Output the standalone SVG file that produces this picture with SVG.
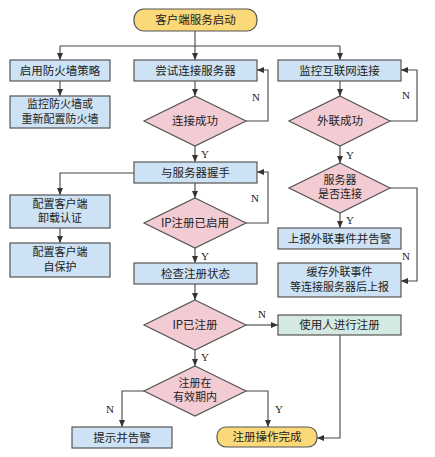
<svg xmlns="http://www.w3.org/2000/svg" width="435" height="457" viewBox="0 0 435 457">
<defs>
<marker id="ah" markerWidth="7" markerHeight="6" refX="7" refY="3" orient="auto" markerUnits="userSpaceOnUse"><path d="M0,0 L7,3 L0,6 z" fill="#333"/></marker>
<style>
.box{fill:#cde2f4;stroke:#555;stroke-width:1.2}
.grn{fill:#d4e9e1;stroke:#555;stroke-width:1.2}
.dia{fill:#f3cbd3;stroke:#555;stroke-width:1.2}
.term{fill:#fbd878;stroke:#555;stroke-width:1.2}
.t{font-family:"Noto Sans CJK SC","Noto Sans CJK JP",sans-serif;font-size:11.5px;fill:#222;text-anchor:middle}
.t2{font-family:"Noto Sans CJK SC","Noto Sans CJK JP",sans-serif;font-size:11px;fill:#222;text-anchor:middle}
.l{font-family:"Liberation Serif",serif;font-size:11px;fill:#222;text-anchor:middle}
#edges path{fill:none;stroke:#444;stroke-width:1.1}
</style>
</defs>
<rect width="435" height="457" fill="#fff"/>
<g id="edges">
<path d="M195,31 V46"/>
<path d="M60,46 H340"/>
<path d="M60,46 V60" marker-end="url(#ah)"/>
<path d="M195,46 V60" marker-end="url(#ah)"/>
<path d="M340,46 V60" marker-end="url(#ah)"/>
<path d="M60,81 V96" marker-end="url(#ah)"/>
<path d="M195,81 V96" marker-end="url(#ah)"/>
<path d="M340,81 V96" marker-end="url(#ah)"/>
<path d="M246,121 H268 V70 H257" marker-end="url(#ah)"/>
<path d="M390,121 H417 V70 H401" marker-end="url(#ah)"/>
<path d="M195,146 V162" marker-end="url(#ah)"/>
<path d="M340,146 V163" marker-end="url(#ah)"/>
<path d="M134,173 H60 V195" marker-end="url(#ah)"/>
<path d="M60,228 V243" marker-end="url(#ah)"/>
<path d="M195,183 V198" marker-end="url(#ah)"/>
<path d="M246,223 H268 V172 H257" marker-end="url(#ah)"/>
<path d="M195,248 V263" marker-end="url(#ah)"/>
<path d="M195,284 V300" marker-end="url(#ah)"/>
<path d="M340,213 V228" marker-end="url(#ah)"/>
<path d="M390,188 H417 V281 H401" marker-end="url(#ah)"/>
<path d="M246,325 H278" marker-end="url(#ah)"/>
<path d="M195,350 V366" marker-end="url(#ah)"/>
<path d="M144,391 H122 V427" marker-end="url(#ah)"/>
<path d="M246,391 H268 V427" marker-end="url(#ah)"/>
<path d="M340,335 V438 H317" marker-end="url(#ah)"/>
<text class="l" x="256" y="101">N</text>
<text class="l" x="406" y="99">N</text>
<text class="l" x="205" y="158">Y</text>
<text class="l" x="350" y="159">Y</text>
<text class="l" x="255" y="202">N</text>
<text class="l" x="205" y="260">Y</text>
<text class="l" x="350" y="224">Y</text>
<text class="l" x="406" y="260">N</text>
<text class="l" x="262" y="318">N</text>
<text class="l" x="205" y="361">Y</text>
<text class="l" x="110" y="413">N</text>
<text class="l" x="279" y="413">Y</text>
</g>
<g id="start"><rect class="term" x="134" y="9" width="123" height="22" rx="10"/><text class="t" x="195.5" y="24">客户端服务启动</text></g>
<g id="fw1"><rect class="box" x="10" y="60" width="100" height="21"/><text class="t" x="60" y="74.5">启用防火墙策略</text></g>
<g id="fw2"><rect class="box" x="10" y="96" width="100" height="32"/><text class="t2" x="60" y="108">监控防火墙或</text><text class="t2" x="60" y="122.5">重新配置防火墙</text></g>
<g id="try"><rect class="box" x="134" y="60" width="123" height="21"/><text class="t" x="195.5" y="74.5">尝试连接服务器</text></g>
<g id="mon"><rect class="box" x="278" y="60" width="123" height="21"/><text class="t" x="339.5" y="74.5">监控互联网连接</text></g>
<g id="d1"><polygon class="dia" points="195,96 246,121 195,146 144,121"/><text class="t" x="195" y="125">连接成功</text></g>
<g id="d2"><polygon class="dia" points="340,96 390,121 340,146 289,121"/><text class="t" x="340" y="125">外联成功</text></g>
<g id="hs"><rect class="box" x="134" y="162" width="123" height="21"/><text class="t" x="195.5" y="176.5">与服务器握手</text></g>
<g id="c1"><rect class="box" x="10" y="195" width="100" height="33"/><text class="t2" x="60" y="207.5">配置客户端</text><text class="t2" x="60" y="222">卸载认证</text></g>
<g id="c2"><rect class="box" x="10" y="243" width="100" height="34"/><text class="t2" x="60" y="256">配置客户端</text><text class="t2" x="60" y="270.5">自保护</text></g>
<g id="d3"><polygon class="dia" points="195,198 246,223 195,248 144,223"/><text class="t" x="195" y="227">IP注册已启用</text></g>
<g id="chk"><rect class="box" x="134" y="263" width="123" height="21"/><text class="t" x="195.5" y="277.5">检查注册状态</text></g>
<g id="d4"><polygon class="dia" points="340,163 390,188 340,213 289,188"/><text class="t2" x="340" y="183.5">服务器</text><text class="t2" x="340" y="198">是否连接</text></g>
<g id="rep"><rect class="box" x="278" y="228" width="123" height="21"/><text class="t" x="339.5" y="242.5">上报外联事件并告警</text></g>
<g id="cache"><rect class="box" x="278" y="263" width="123" height="34"/><text class="t2" x="339.5" y="276">缓存外联事件</text><text class="t2" x="339.5" y="290.5">等连接服务器后上报</text></g>
<g id="d5"><polygon class="dia" points="195,300 246,325 195,350 144,325"/><text class="t" x="195" y="329">IP已注册</text></g>
<g id="reg"><rect class="grn" x="278" y="315" width="123" height="20"/><text class="t" x="339.5" y="329">使用人进行注册</text></g>
<g id="d6"><polygon class="dia" points="195,366 246,391 195,416 144,391"/><text class="t2" x="195" y="386.5">注册在</text><text class="t2" x="195" y="401">有效期内</text></g>
<g id="warn"><rect class="box" x="72" y="427" width="100" height="21"/><text class="t" x="122" y="441.5">提示并告警</text></g>
<g id="done"><rect class="term" x="217" y="427" width="100" height="20" rx="9"/><text class="t" x="267" y="441">注册操作完成</text></g>
</svg>
